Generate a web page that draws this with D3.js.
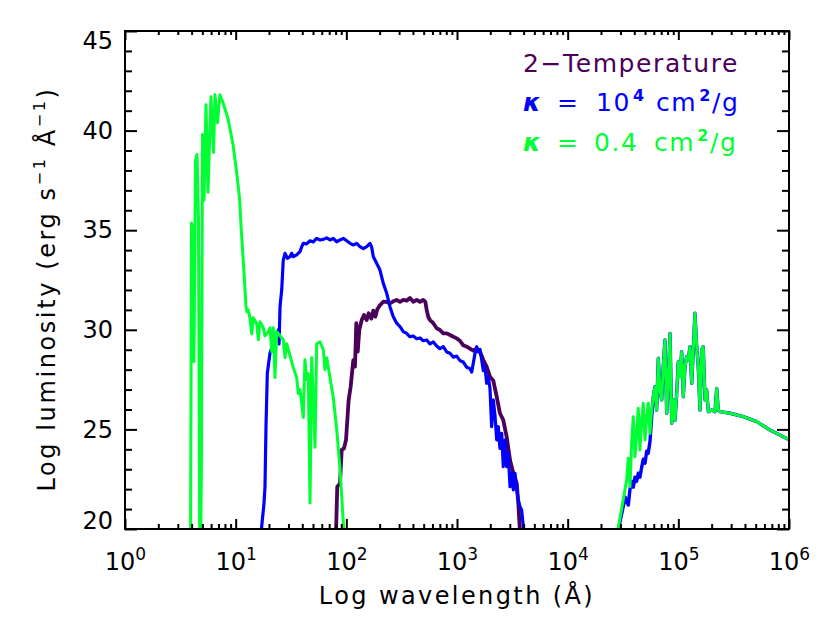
<!DOCTYPE html>
<html>
<head>
<meta charset="utf-8">
<script src="https://cdn.jsdelivr.net/npm/d3@7"></script>
<style>
  body { margin: 0; background: #fff; }
  svg text { font-family: "DejaVu Sans", sans-serif; fill: #000; }
</style>
</head>
<body>
<div id="chart"></div>
<script>
// Data: [log10 wavelength (A), log10 luminosity]
var twoTempUV = [
  [1.907,19.86],[1.918,22.12],[1.943,22.29],[1.958,23.97],[1.979,24.05],[1.997,24.47],[2.009,25.47],
  [2.021,26.48],[2.039,27.14],[2.051,27.82],[2.063,28.48],[2.078,28.15],[2.090,30.33],[2.103,28.90],
  [2.117,29.99],[2.139,30.49],[2.160,30.74],[2.184,30.49],[2.202,30.83],[2.226,30.56],[2.244,30.96],
  [2.262,30.66],[2.280,31.03],[2.304,31.23],[2.334,31.41],[2.365,31.40],[2.394,31.33],[2.424,31.43],
  [2.455,31.50],[2.485,31.40],[2.515,31.50],[2.545,31.46],[2.575,31.60],[2.605,31.41],[2.636,31.50],
  [2.666,31.40],[2.695,31.50],[2.714,31.40],[2.726,31.00],[2.741,30.63],[2.756,30.49],[2.786,30.33],
  [2.816,30.08],[2.846,29.99],[2.876,29.82],[2.907,29.82],[2.937,29.74],[2.967,29.65],[2.997,29.57],
  [3.027,29.45],[3.057,29.22],[3.088,29.15],[3.117,29.05],[3.147,28.95],[3.178,29.05],[3.208,28.89],
  [3.238,28.48],[3.268,28.15],[3.298,27.65],[3.328,27.45],[3.359,26.64],[3.388,25.81],[3.418,25.47],
  [3.449,24.63],[3.479,23.46],[3.509,22.80],[3.540,22.29],[3.554,21.29],[3.569,19.86]
];

var kappaHighUV = [
  [1.232,19.5],[1.235,20.12],[1.256,21.29],[1.265,22.12],[1.274,25.14],[1.286,27.82],[1.298,28.32],
  [1.310,28.82],[1.340,29.32],[1.371,29.65],[1.385,29.99],[1.392,29.29],[1.401,31.16],[1.416,32.00],
  [1.430,33.50],[1.446,33.84],[1.467,33.59],[1.491,33.67],[1.506,33.84],[1.521,33.67],[1.551,33.76],
  [1.581,33.92],[1.597,34.17],[1.611,34.34],[1.642,34.31],[1.672,34.47],[1.701,34.41],[1.732,34.59],
  [1.762,34.51],[1.792,34.54],[1.822,34.61],[1.852,34.51],[1.882,34.59],[1.913,34.42],[1.943,34.51],
  [1.973,34.59],[2.003,34.47],[2.033,34.34],[2.063,34.26],[2.094,34.34],[2.123,34.17],[2.153,34.07],
  [2.184,34.17],[2.214,34.34],[2.229,34.14],[2.244,33.67],[2.274,33.34],[2.304,33.00],[2.334,32.33],
  [2.365,31.83],[2.394,31.16],[2.424,30.66],[2.455,30.33],[2.485,30.16],[2.515,29.91],[2.545,29.82],
  [2.575,29.65],[2.605,29.69],[2.636,29.55],[2.666,29.59],[2.695,29.45],[2.726,29.49],[2.756,29.29],
  [2.786,29.39],[2.816,29.19],[2.846,29.05],[2.876,29.15],[2.907,28.89],[2.937,28.82],[2.967,28.62],
  [2.997,28.68],[3.027,28.45],[3.057,28.38],[3.088,28.12],[3.117,28.05],[3.133,27.88],[3.147,28.32],
  [3.163,28.82],[3.178,29.15],[3.192,28.89],[3.208,29.02],[3.223,28.48],[3.238,27.95],[3.253,28.15],
  [3.268,27.31],[3.283,27.65],[3.298,27.06],[3.313,25.14],[3.328,26.48],[3.343,25.72],[3.359,24.47],
  [3.373,25.14],[3.388,24.05],[3.404,24.80],[3.418,23.13],[3.434,24.47],[3.449,23.13],[3.463,23.80],
  [3.479,22.12],[3.494,22.80],[3.509,21.96],[3.524,22.80],[3.540,21.96],[3.554,21.46],[3.569,21.12],
  [3.584,20.95],[3.599,20.12],[3.608,19.86]
];

var kappaHighIR = [
  [4.440,19.5],[4.520,21.6],[4.548,21.2],[4.563,22.0],[4.578,22.4],[4.593,22.1],[4.608,22.6],
  [4.624,22.4],[4.638,22.8],[4.653,22.6],[4.669,23.1],[4.683,23.5],[4.699,23.3],[4.714,23.9],
  [4.728,23.8],[4.744,24.4],[4.759,25.6]
];

var kappaLowUV = [
  [0.590,15.0],[0.601,35.36],[0.614,35.0],[0.623,28.4],[0.637,38.5],[0.651,38.8],[0.664,35.5],
  [0.678,15.0],[0.691,23.6],[0.700,39.8],[0.714,36.5],[0.732,41.3],[0.750,36.9],[0.777,41.7],
  [0.800,38.9],[0.813,41.8],[0.836,40.4],[0.858,41.8],[0.886,41.4],[0.931,40.6],[0.976,39.3],
  [1.007,38.0],[1.035,36.6],[1.053,34.8],[1.075,32.9],[1.093,31.2],[1.102,30.9],[1.114,31.0],
  [1.129,30.6],[1.145,29.8],[1.159,30.6],[1.190,30.3],[1.205,29.5],[1.220,30.4],[1.250,30.1],
  [1.265,29.7],[1.295,29.9],[1.310,30.1],[1.326,28.9],[1.340,30.1],[1.355,27.6],[1.371,29.9],
  [1.401,29.7],[1.430,29.5],[1.446,28.6],[1.461,29.3],[1.491,28.7],[1.521,28.1],[1.551,27.6],
  [1.566,26.8],[1.581,27.0],[1.597,26.3],[1.611,25.6],[1.626,28.5],[1.642,27.5],[1.656,27.8],
  [1.672,21.3],[1.687,28.6],[1.702,26.5],[1.717,24.1],[1.732,29.3],[1.762,29.4],[1.792,29.0],
  [1.807,28.0],[1.823,28.6],[1.852,27.6],[1.882,26.6],[1.913,25.0],[1.943,23.0],[1.973,20.3],
  [1.988,19.2]
];

var kappaLowIR = [
  [4.440,19.5],[4.533,22.46],[4.548,23.55],[4.563,22.12],[4.578,24.30],[4.593,25.64],[4.608,23.63],
  [4.624,24.80],[4.638,26.06],[4.653,23.97],[4.669,25.47],[4.683,26.31],[4.699,24.47],[4.714,25.64],
  [4.728,26.31],[4.744,24.80],[4.759,25.97]
];

// long-wavelength part shared by both opacity curves (they overlap there)
var irTail = [
  [4.774,26.64],[4.789,27.14],[4.804,25.97],[4.819,28.57],[4.834,26.98],[4.850,26.48],[4.864,28.15],
  [4.879,29.49],[4.895,25.81],[4.909,27.31],[4.925,29.82],[4.940,25.31],[4.954,26.48],[4.970,25.47],
  [4.985,26.81],[5.000,28.40],[5.015,27.65],[5.030,28.90],[5.045,26.64],[5.060,28.15],[5.075,28.65],
  [5.090,28.48],[5.105,29.15],[5.121,27.31],[5.135,28.99],[5.150,30.83],[5.166,29.15],[5.180,28.15],
  [5.196,25.97],[5.211,28.99],[5.225,29.15],[5.241,26.48],[5.256,26.98],[5.271,25.89],[5.301,25.97],
  [5.331,25.89],[5.347,27.06],[5.361,25.97],[5.377,25.89],[5.467,25.81],[5.587,25.64],[5.708,25.39],
  [5.828,24.97],[5.948,24.63],[6.008,24.47]
];

var xDecades = [0, 1, 2, 3, 4, 5, 6];
var yTicks   = [20, 25, 30, 35, 40, 45];

var purple = '#4b005a';
var blue   = '#0000ff';
var green  = '#00ff33';

// Layout
var chart_width  = 830;
var chart_height = 623;
var pLeft = 125, pRight = 789, pTop = 31, pBottom = 529;

var svg = d3.select('#chart')
    .append('svg')
    .attr('width', chart_width)
    .attr('height', chart_height);

var x = d3.scaleLog().domain([1, 1e6]).range([pLeft, pRight]);
var y = d3.scaleLinear().domain([20, 45]).range([pBottom, pTop]);

var majorX = xDecades.map(function(p){ return Math.pow(10, p); });
var minorX = [];
xDecades.slice(0, -1).forEach(function(p){
    for (var m = 2; m <= 9; m++) minorX.push(m * Math.pow(10, p));
});
var minorY = d3.range(20, 46).filter(function(v){ return v % 5 !== 0; });

svg.append('defs').append('clipPath').attr('id', 'plotclip')
    .append('rect')
    .attr('x', pLeft).attr('y', pTop)
    .attr('width', pRight - pLeft).attr('height', pBottom - pTop);

// Curves
var line = d3.line()
    .x(function(d){ return x(Math.pow(10, d[0])); })
    .y(function(d){ return y(d[1]); });

var curves = [
    { data: twoTempUV, color: purple, w: 3.8 },
    { data: kappaHighUV, color: blue, w: 3.2 },
    { data: kappaHighIR.concat(irTail), color: blue, w: 3.4 },
    { data: kappaLowUV, color: green, w: 3 },
    { data: kappaLowIR.concat(irTail), color: green, w: 3 }
];

svg.append('g')
    .attr('clip-path', 'url(#plotclip)')
    .selectAll('path')
    .data(curves)
    .enter()
    .append('path')
    .attr('d', function(d){ return line(d.data); })
    .attr('fill', 'none')
    .attr('stroke', function(d){ return d.color; })
    .attr('stroke-width', function(d){ return d.w; })
    .attr('stroke-linejoin', 'round');

// Axes (ticks point inward, IDL style)
function styleAxis(g){
    g.select('.domain').remove();
    g.selectAll('.tick line').attr('stroke', '#000').attr('stroke-width', 2);
}

var gBottom = svg.append('g')
    .attr('transform', 'translate(0,' + pBottom + ')')
    .call(d3.axisBottom(x).tickValues(majorX).tickSize(-10).tickPadding(24).tickFormat(function(d){ return d; }))
    .call(styleAxis);
svg.append('g').attr('transform', 'translate(0,' + pBottom + ')')
    .call(d3.axisBottom(x).tickValues(minorX).tickSize(-5).tickFormat(''))
    .call(styleAxis);
svg.append('g').attr('transform', 'translate(0,' + pTop + ')')
    .call(d3.axisTop(x).tickValues(majorX).tickSize(-9).tickFormat(''))
    .call(styleAxis);
svg.append('g').attr('transform', 'translate(0,' + pTop + ')')
    .call(d3.axisTop(x).tickValues(minorX).tickSize(-4).tickFormat(''))
    .call(styleAxis);

var gLeft = svg.append('g')
    .attr('transform', 'translate(' + pLeft + ',0)')
    .call(d3.axisLeft(y).tickValues(yTicks).tickSize(-12).tickPadding(12))
    .call(styleAxis);
svg.append('g').attr('transform', 'translate(' + pLeft + ',0)')
    .call(d3.axisLeft(y).tickValues(minorY).tickSize(-7).tickFormat(''))
    .call(styleAxis);
svg.append('g').attr('transform', 'translate(' + pRight + ',0)')
    .call(d3.axisRight(y).tickValues(yTicks).tickSize(-12).tickFormat(''))
    .call(styleAxis);
svg.append('g').attr('transform', 'translate(' + pRight + ',0)')
    .call(d3.axisRight(y).tickValues(minorY).tickSize(-7).tickFormat(''))
    .call(styleAxis);

// x labels as 10^n
gBottom.selectAll('.tick text')
    .attr('font-size', 24)
    .attr('font-family', 'DejaVu Sans')
    .attr('fill', '#000')
    .each(function(d){
        var t = d3.select(this).text(null);
        t.append('tspan').text('10');
        t.append('tspan').attr('dy', -10).attr('font-size', 17).text(Math.round(Math.log10(d)));
    });

gLeft.selectAll('.tick text')
    .attr('font-size', 24)
    .attr('font-family', 'DejaVu Sans')
    .attr('fill', '#000')
    .attr('transform', function(d){
        if (d === 45) return 'translate(0,10)';
        if (d === 20) return 'translate(0,-8)';
        return null;
    });

// frame
svg.append('rect')
    .attr('x', pLeft).attr('y', pTop)
    .attr('width', pRight - pLeft).attr('height', pBottom - pTop)
    .attr('fill', 'none')
    .attr('stroke', '#000')
    .attr('stroke-width', 2);

// Axis titles
svg.append('text')
    .attr('x', (pLeft + pRight) / 2)
    .attr('y', 604)
    .attr('text-anchor', 'middle')
    .attr('font-size', 24)
    .attr('letter-spacing', 2.4)
    .text('Log wavelength (\u00c5)');

var yTitle = svg.append('text')
    .attr('transform', 'translate(55,289) rotate(-90)')
    .attr('text-anchor', 'middle')
    .attr('font-size', 24)
    .attr('letter-spacing', 2.6);
yTitle.append('tspan').text('Log luminosity (erg s');
yTitle.append('tspan').attr('dy', -10).attr('font-size', 16).text('\u22121');
yTitle.append('tspan').attr('dy', 10).text(' \u00c5');
yTitle.append('tspan').attr('dy', -10).attr('font-size', 16).text('\u22121');
yTitle.append('tspan').attr('dy', 10).text(')');

// Legend
var legend = svg.append('g')
    .attr('font-size', 25)
    .attr('letter-spacing', 1.6);

legend.append('text')
    .attr('x', 523).attr('y', 72)
    .style('fill', purple)
    .text('2\u2212Temperature');

var l2 = legend.append('text').attr('y', 111).style('fill', blue);
l2.append('tspan').attr('x', 523).attr('font-style', 'italic').attr('font-weight', 'bold').text('\u03ba');
l2.append('tspan').attr('x', 557).text('=');
l2.append('tspan').attr('x', 596).text('10');
l2.append('tspan').attr('dy', -10).attr('dx', 2).attr('font-size', 16).attr('font-weight', 'bold').text('4');
l2.append('tspan').attr('x', 656).attr('dy', 10).text('cm');
l2.append('tspan').attr('dy', -10).attr('dx', 2).attr('font-size', 16).attr('font-weight', 'bold').text('2');
l2.append('tspan').attr('dy', 10).text('/g');

var l3 = legend.append('text').attr('y', 151).style('fill', green);
l3.append('tspan').attr('x', 523).attr('font-style', 'italic').attr('font-weight', 'bold').text('\u03ba');
l3.append('tspan').attr('x', 557).text('=');
l3.append('tspan').attr('x', 594).text('0.4');
l3.append('tspan').attr('x', 654).text('cm');
l3.append('tspan').attr('dy', -10).attr('dx', 2).attr('font-size', 16).attr('font-weight', 'bold').text('2');
l3.append('tspan').attr('dy', 10).text('/g');
</script>
</body>
</html>
